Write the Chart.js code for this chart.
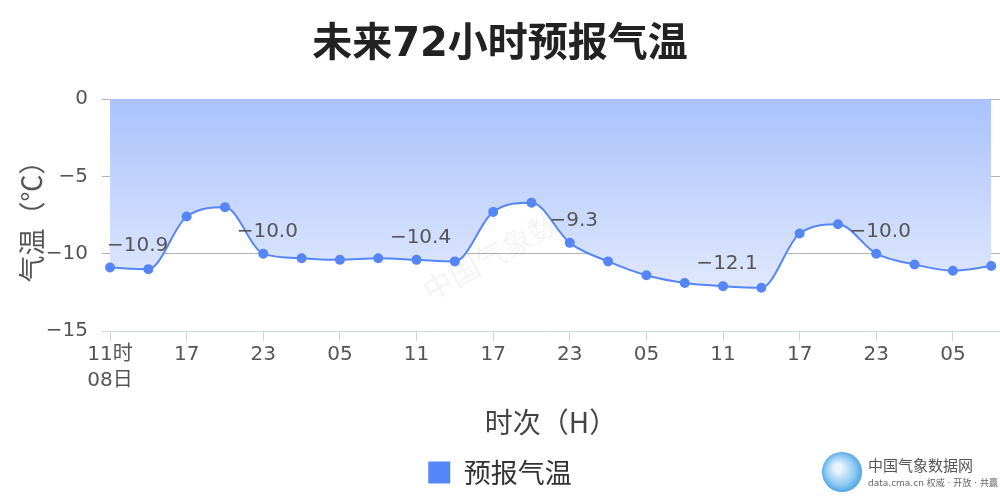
<!DOCTYPE html>
<html>
<head>
<meta charset="utf-8">
<script src="https://cdn.jsdelivr.net/npm/chart.js@4.4.1/dist/chart.umd.min.js"></script>
<style>
  html, body { margin: 0; padding: 0; background: #fff; }
  #wrap { width: 1000px; height: 500px; position: relative; }
</style>
</head>
<body>
<div id="wrap"><canvas id="temp"></canvas></div>
<script>
var FONT = "'DejaVu Sans', 'Noto Sans CJK SC', sans-serif";
var CJK = "'Noto Sans CJK SC', 'DejaVu Sans', sans-serif";

// hours every 3h starting 11时 08日
var hours = ['11', '14', '17', '20', '23', '02', '05', '08', '11', '14', '17', '20',
             '23', '02', '05', '08', '11', '14', '17', '20', '23', '02', '05', '08'];
var temps = [-10.9, -11.0, -7.6, -7.0, -10.0, -10.3, -10.4, -10.3, -10.4, -10.5, -7.3, -6.7,
             -9.3, -10.5, -11.4, -11.9, -12.1, -12.2, -8.7, -8.1, -10.0, -10.7, -11.1, -10.8];
var labelIdx = [0, 4, 8, 12, 16, 20];
var yTicks = [0, -5, -10, -15];

function minus(v) {
  return String(v).replace('-', '\u2212');
}

// value labels above some points
var valueLabels = {
  id: 'valueLabels',
  afterDatasetsDraw: function(chart) {
    var meta = chart.getDatasetMeta(0);
    var ctx = chart.ctx;
    var area = chart.chartArea;
    ctx.save();
    ctx.font = '20px ' + FONT;
    ctx.fillStyle = '#555';
    ctx.textBaseline = 'middle';
    ctx.textAlign = 'left';
    labelIdx.forEach(function(i) {
      var p = meta.data[i];
      var txt = minus(temps[i].toFixed(1));
      var w = ctx.measureText(txt).width;
      var left = p.x + 4 - w / 2;
      if (left < area.left + 5) left = area.left + 5;
      ctx.fillText(txt, left, p.y - 22);
    });
    ctx.restore();
  }
};

// faint site marks
var marks = {
  id: 'marks',
  beforeDatasetsDraw: function(chart) {
    var ctx = chart.ctx;
    ctx.save();
    ctx.translate(510, 250);
    ctx.rotate(-0.5);
    ctx.font = '30px ' + FONT;
    ctx.fillStyle = 'rgba(0,0,0,0.045)';
    ctx.textAlign = 'center';
    ctx.textBaseline = 'middle';
    ctx.fillText('中国气象数据网', 10, 0);
    ctx.restore();
  },
  afterDraw: function(chart) {
    var ctx = chart.ctx;
    ctx.save();
    var g = ctx.createRadialGradient(838, 468, 4, 842, 472, 22);
    g.addColorStop(0, '#e8f4ff');
    g.addColorStop(0.6, '#8cc8f2');
    g.addColorStop(1, '#3d9be0');
    ctx.fillStyle = g;
    ctx.beginPath();
    ctx.arc(842, 472, 20, 0, Math.PI * 2);
    ctx.fill();
    ctx.fillStyle = '#555';
    ctx.font = '15px ' + FONT;
    ctx.textBaseline = 'middle';
    ctx.fillText('中国气象数据网', 868, 467);
    ctx.font = '9px ' + FONT;
    ctx.fillStyle = '#666';
    ctx.fillText('data.cma.cn 权威 · 开放 · 共赢', 868, 484);
    ctx.restore();
  }
};

var chart = new Chart(document.getElementById('temp'), {
  type: 'line',
  data: {
    datasets: [{
      label: '预报气温',
      data: temps.map(function(v, i) { return { x: i, y: v }; }),
      borderColor: '#5586f7',
      borderWidth: 2,
      pointBackgroundColor: '#5586f7',
      pointBorderColor: '#5586f7',
      pointRadius: 4,
      cubicInterpolationMode: 'monotone',
      fill: 'end',
      backgroundColor: function(c) {
        var area = c.chart.chartArea;
        if (!area) return 'rgba(170,195,252,0.8)';
        var g = c.chart.ctx.createLinearGradient(0, area.top, 0, area.bottom);
        g.addColorStop(0, '#aac2fc');
        g.addColorStop(0.67, '#d6e1fd');
        g.addColorStop(1, '#edf2fe');
        return g;
      }
    }]
  },
  options: {
    responsive: true,
    maintainAspectRatio: false,
    animation: false,
    layout: { autoPadding: false, padding: { left: 0, right: 0, top: 0, bottom: 4 } },
    plugins: {
      title: {
        display: true,
        text: '未来72小时预报气温',
        color: '#222',
        font: { family: FONT, size: 40, weight: 'bold' },
        padding: { top: 22, bottom: 29 }
      },
      legend: {
        position: 'bottom',
        labels: {
          color: '#333',
          font: { family: CJK, size: 27 },
          boxWidth: 22,
          boxHeight: 22,
          padding: 10,
          generateLabels: function(ch) {
            return [{ text: '预报气温', fillStyle: '#5586f7', strokeStyle: '#5586f7', lineWidth: 0, datasetIndex: 0, fontColor: '#333' }];
          }
        }
      },
      tooltip: { enabled: false }
    },
    scales: {
      x: {
        type: 'linear',
        min: -0.21,
        max: 23.23,
        afterBuildTicks: function(scale) {
          var t = [];
          for (var i = 0; i < hours.length; i += 2) t.push({ value: i });
          scale.ticks = t;
        },
        afterFit: function(scale) { scale.height = 118; },
        grid: { display: true, drawOnChartArea: false, drawTicks: true, tickLength: 10, color: '#ccd6eb' },
        border: { display: true, color: '#ccd6eb' },
        ticks: {
          color: '#555',
          padding: 1,
          maxRotation: 0,
          autoSkip: false,
          font: { family: FONT, size: 20, lineHeight: 1.3 },
          callback: function(v) {
            if (v === 0) return [hours[0] + '时', '08日'];
            return hours[v];
          }
        },
        title: {
          display: true,
          text: '时次（H）',
          color: '#444',
          font: { family: CJK, size: 28 },
          padding: { top: 8, bottom: 10 }
        }
      },
      y: {
        min: -15,
        max: 0,
        afterBuildTicks: function(scale) {
          scale.ticks = yTicks.map(function(v) { return { value: v }; });
        },
        afterFit: function(scale) { scale.width = 102; },
        grid: {
          drawTicks: false,
          color: function(c) { return c.tick && c.tick.value === -15 ? 'rgba(0,0,0,0)' : '#b4b4b4'; }
        },
        border: { display: false },
        ticks: {
          color: '#555',
          padding: 14,
          font: { family: FONT, size: 20 },
          callback: function(v) { return minus(v); }
        },
        title: {
          display: true,
          text: '气温（℃）',
          color: '#555',
          font: { family: CJK, size: 27 },
          padding: { top: 16, bottom: 4 }
        }
      }
    }
  },
  plugins: [marks, valueLabels]
});
</script>
</body>
</html>
